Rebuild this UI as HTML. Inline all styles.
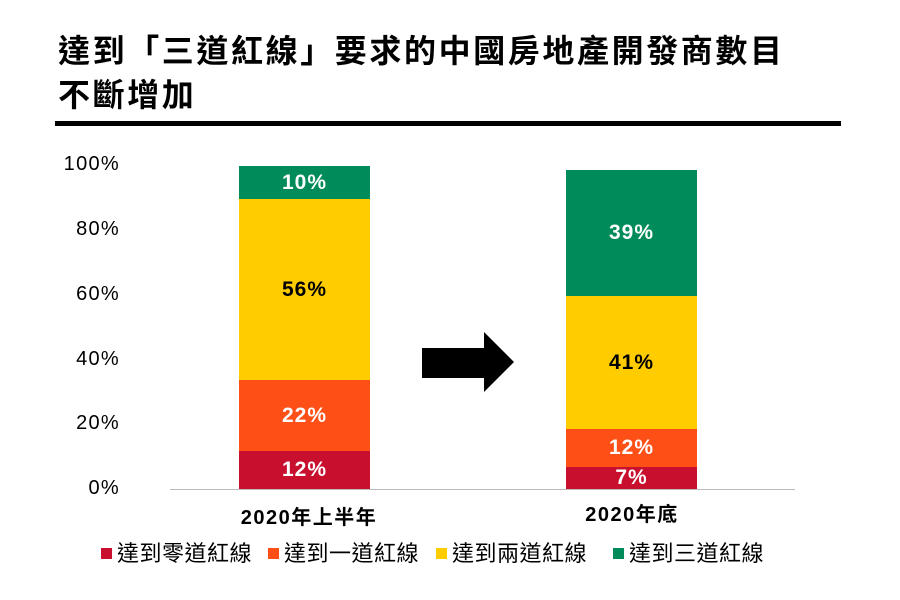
<!DOCTYPE html>
<html><head><meta charset="utf-8"><style>
body{margin:0;width:900px;height:600px;background:#fff;overflow:hidden;position:relative;font-family:"Liberation Sans","Noto Sans CJK TC",sans-serif}
.a{position:absolute}
.t{left:58px;font-size:32px;letter-spacing:2.6px;font-weight:bold;color:#000;line-height:44px}
.yl{width:80px;text-align:right;left:40px;font-size:20px;letter-spacing:1.3px;color:#000}
.seg{position:absolute;width:131px;display:flex;align-items:center;justify-content:center;font-weight:bold;font-size:21px;letter-spacing:1px}
.cat{font-size:20px;letter-spacing:1.5px;font-weight:bold;text-align:center;width:220px}
.lg{top:536px;font-size:22px;letter-spacing:0.5px;color:#000;white-space:nowrap}
.sq{display:inline-block;width:11px;height:11px;margin-right:5px;vertical-align:2px}
</style></head><body>
<div class="a t" style="top:29px">達到「三道紅線」要求的中國房地產開發商數目</div>
<div class="a t" style="top:73px">不斷增加</div>
<div class="a" style="left:55px;top:121px;width:786px;height:5px;background:#000"></div>
<div class="a yl" style="top:153px">100%</div>
<div class="a yl" style="top:218px">80%</div>
<div class="a yl" style="top:283px">60%</div>
<div class="a yl" style="top:348px">40%</div>
<div class="a yl" style="top:412px">20%</div>
<div class="a yl" style="top:477px">0%</div>
<div class="a" style="left:170px;top:489px;width:625px;height:1px;background:#bbb"></div>

<div class="seg" style="left:239px;top:451px;height:38px;background:#C8102E;color:#fff">12%</div>
<div class="seg" style="left:239px;top:380px;height:71px;background:#FE4F16;color:#fff">22%</div>
<div class="seg" style="left:239px;top:199px;height:181px;background:#FFCC00;color:#000">56%</div>
<div class="seg" style="left:239px;top:166px;height:33px;background:#008C5A;color:#fff">10%</div>

<div class="seg" style="left:566px;top:467px;height:22px;background:#C8102E;color:#fff">7%</div>
<div class="seg" style="left:566px;top:429px;height:38px;background:#FE4F16;color:#fff">12%</div>
<div class="seg" style="left:566px;top:296px;height:133px;background:#FFCC00;color:#000">41%</div>
<div class="seg" style="left:566px;top:170px;height:126px;background:#008C5A;color:#fff">39%</div>

<svg class="a" style="left:0;top:0" width="900" height="600"><polygon points="422,348 484,348 484,332 514,362 484,392 484,378 422,378" fill="#000"/></svg>

<div class="a cat" style="left:199px;top:501px">2020年上半年</div>
<div class="a cat" style="left:522px;top:498px">2020年底</div>

<div class="a lg" style="left:101px"><span class="sq" style="background:#C8102E"></span>達到零道紅線</div>
<div class="a lg" style="left:268px"><span class="sq" style="background:#FE4F16"></span>達到一道紅線</div>
<div class="a lg" style="left:436px"><span class="sq" style="background:#FFCC00"></span>達到兩道紅線</div>
<div class="a lg" style="left:613px"><span class="sq" style="background:#008C5A"></span>達到三道紅線</div>
</body></html>
